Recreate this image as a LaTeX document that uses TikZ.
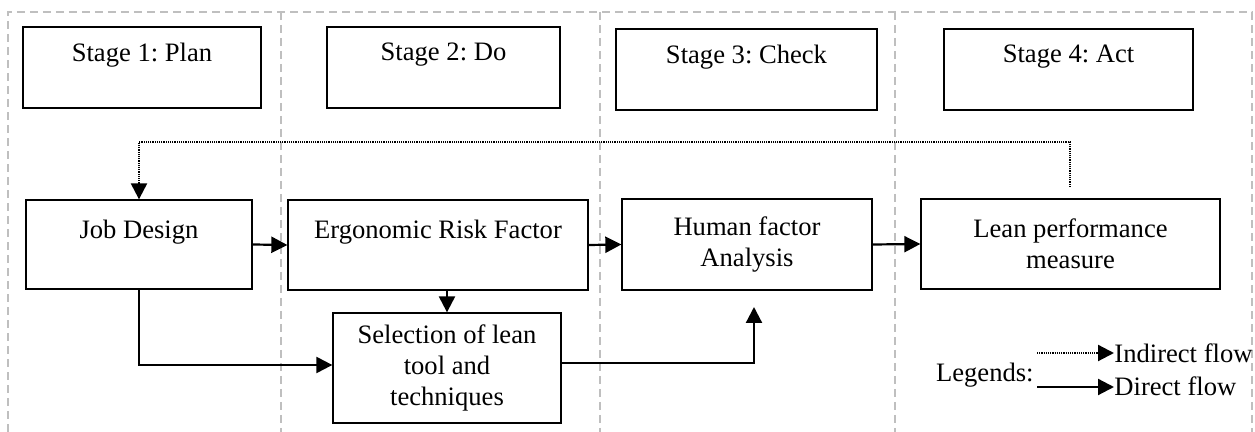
\documentclass[tikz,border=0pt]{standalone}
\usepackage{fontspec}
\setmainfont{Liberation Serif}
\frenchspacing
\usetikzlibrary{arrows.meta}
\begin{document}
\begin{tikzpicture}[x=0.5pt,y=-0.5pt,
  txt/.style={inner sep=0pt, align=center, font=\fontsize{13.3}{15.5}\selectfont},
  box/.style={txt, draw, line width=0.65pt, rectangle},
  sz/.style 2 args={minimum width=#1*0.5pt, minimum height=#2*0.5pt},
  lane/.style={draw=black!25, line width=0.6pt, dash pattern=on 4pt off 2.5pt},
  flow/.style={line width=1.1pt, -{Triangle[length=8pt,width=8pt]}},
  iflow/.style={line width=1.1pt, dash pattern=on 0.6pt off 0.5pt, -{Triangle[length=8pt,width=8pt]}}
]
\useasboundingbox (0,0) rectangle (1255,432);

% lanes
\draw[lane] (8,432) -- (8,12) -- (1252,12) -- (1252,432);
\draw[lane] (281,12) -- (281,432);
\draw[lane] (600,12) -- (600,432);
\draw[lane] (895,12) -- (895,432);

% stage boxes
\node[box, sz={238}{81}] (s1) at (142,67.5) {Stage 1: Plan\\\mbox{}};
\node[box, sz={233}{81}] (s2) at (443.5,67.5) {Stage 2: Do\\\mbox{}};
\node[box, sz={261}{81}] (s3) at (746.5,69.5) {Stage 3: Check\\\mbox{}};
\node[box, sz={249}{81}] (s4) at (1068.5,69.5) {Stage 4: Act\\\mbox{}};

% process boxes
\node[box, sz={226}{89}] (jd) at (139,244.5) {Job Design\\\mbox{}};
\node[box, sz={300}{90}] (ergo) at (438,245) {Ergonomic Risk Factor\\\mbox{}};
\node[box, sz={250}{91}] (hum) at (747,244.5) {Human factor\\Analysis};
\node[box, sz={299}{90}] (lean) at (1070.5,244) {Lean performance\\measure};
\node[box, sz={228}{110}] (sel) at (447,368) {Selection of lean\\tool and\\techniques};

% connectors
\draw[flow] (jd.east) -- (ergo.west);
\draw[flow] (ergo.east) -- (hum.west);
\draw[flow] (hum.east) -- (lean.west);
\draw[flow] (ergo.south -| sel.north) -- (sel.north);
\draw[flow] (jd.south) |- ([yshift=1.5pt]sel.west);
\coordinate (hb) at (754,307);
\draw[flow] ([yshift=2.5pt]sel.east) -| (hb);
\coordinate (lt) at (1070,187);
\draw[iflow] (lt) -- ++(0,-45) -| (jd.north);

% legend
\node[txt, anchor=east] (leg) at (1034,375) {Legends:};
\node[txt, anchor=west] (ind) at (1114,353) {Indirect flow};
\node[txt, anchor=west] (dir) at (1114,386) {Direct flow};
\coordinate (i1) at (1037,353);
\coordinate (d1) at (1037,387);
\draw[iflow] (i1) -- (ind.west);
\draw[flow] (d1) -- (dir.west |- d1);
\end{tikzpicture}
\end{document}
